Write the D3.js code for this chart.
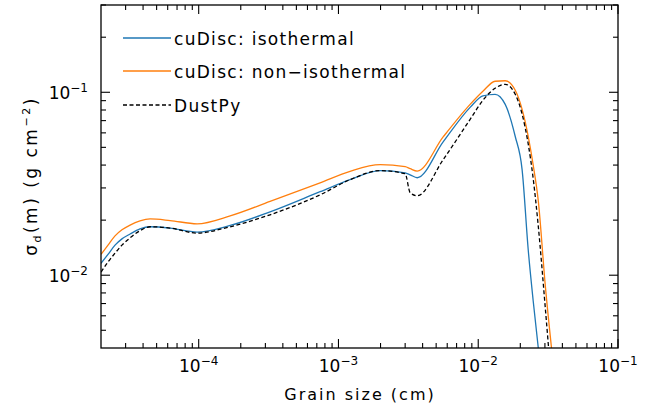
<!DOCTYPE html>
<html>
<head>
<meta charset="utf-8">
<script src="https://cdn.jsdelivr.net/npm/d3@7"></script>
<style>
  body { margin: 0; background: #fff; }
  text { font-family: "DejaVu Sans", sans-serif; fill: #000; }
</style>
</head>
<body>
<svg id="chart" width="665" height="410"></svg>
<script>
// Grain sizes (cm) and surface densities (g cm^-2)
var grainSize = [2.0e-5, 2.245e-5, 2.52e-5, 2.825e-5, 3.23e-5, 3.80e-5, 4.49e-5, 6.24e-5, 9.73e-5,
                 1.68e-4, 3.24e-4, 7.39e-4, 1.21e-3, 1.99e-3, 3.00e-3, 3.26e-3, 3.66e-3, 5.61e-3,
                 8.75e-3, 1.08e-2, 1.32e-2, 1.56e-2, 1.84e-2, 2.06e-2, 2.28e-2, 2.47e-2, 2.69e-2,
                 3.01e-2, 3.38e-2];
var isothermal = [0.0116, 0.0130, 0.0146, 0.0158, 0.0168, 0.0179, 0.0184, 0.0181, 0.0172,
                  0.0187, 0.0222, 0.0286, 0.0333, 0.0373, 0.0363, 0.0354, 0.0341, 0.0535,
                  0.0827, 0.0957, 0.0975, 0.0859, 0.0573, 0.0378, 0.0137, 0.0073, 0.0040,
                  0.0021, 0.0011];
var nonIsothermal = [0.0130, 0.0146, 0.0164, 0.0177, 0.0188, 0.0198, 0.0203, 0.0199, 0.0191,
                     0.0211, 0.0253, 0.0320, 0.0370, 0.0402, 0.0392, 0.0382, 0.0371, 0.0570,
                     0.0859, 0.1013, 0.1149, 0.1156, 0.1025, 0.0807, 0.0573, 0.0402, 0.0255,
                     0.0090, 0.0037];
var dustPy = [0.0104, 0.0118, 0.0132, 0.0146, 0.0160, 0.0175, 0.0184, 0.0181, 0.0170,
              0.0184, 0.0214, 0.0275, 0.0333, 0.0373, 0.0359, 0.0282, 0.0272, 0.0428,
              0.0711, 0.0904, 0.1052, 0.1106, 0.0975, 0.0760, 0.0520, 0.0340, 0.0185,
              0.0068, 0.0023];

var seriesNames = ["cuDisc: isothermal", "cuDisc: non\u2212isothermal", "DustPy"];
var seriesColors = ["#1f77b4", "#ff7f0e", "#000"];
var seriesValues = [isothermal, nonIsothermal, dustPy];

var xTickExp = [-4, -3, -2, -1];
var yTickExp = [-2, -1];

// Plot box (careful: "top" is taken by window.top)
var boxL = 101, boxR = 618, boxT = 5, boxB = 348;

var svg = d3.select("#chart");

var x = d3.scaleLog().domain([2e-5, 0.1]).range([boxL, boxR]);
var y = d3.scaleLog().domain([0.004, 0.3]).range([boxB, boxT]);

// clip the curves to the plot box
svg.append("clipPath").attr("id", "box")
    .append("rect").attr("x", boxL).attr("y", boxT)
    .attr("width", boxR - boxL).attr("height", boxB - boxT);

var line = d3.line()
    .x(function (d) { return x(d[0]); })
    .y(function (d) { return y(d[1]); })
    .curve(d3.curveMonotoneX);

var curves = svg.append("g").attr("clip-path", "url(#box)");
seriesValues.forEach(function (vals, i) {
    curves.append("path")
        .datum(grainSize.map(function (a, j) { return [a, vals[j]]; }))
        .attr("d", line)
        .attr("fill", "none")
        .attr("stroke", seriesColors[i])
        .attr("stroke-width", 1.3)
        .attr("stroke-dasharray", i === 2 ? "4,2.5" : null);
});

// Minor/major tick list for a log domain
function logTicks(domain) {
    var out = [];
    var lo = Math.floor(Math.log10(domain[0])), hi = Math.ceil(Math.log10(domain[1]));
    for (var e = lo; e <= hi; e++) {
        for (var m = 1; m <= 9; m++) {
            var v = m * Math.pow(10, e);
            if (v > domain[0] * 1.0001 && v <= domain[1] * 1.0001) {
                out.push({ v: v, major: m === 1 });
            }
        }
    }
    return out;
}

var axes = svg.append("g").attr("stroke", "#000").attr("stroke-width", 1.1);
var majorLen = 9, minorLen = 5;

logTicks(x.domain()).forEach(function (t) {
    var px = x(t.v), len = t.major ? majorLen : minorLen;
    axes.append("line").attr("x1", px).attr("x2", px).attr("y1", boxB).attr("y2", boxB - len);
    axes.append("line").attr("x1", px).attr("x2", px).attr("y1", boxT).attr("y2", boxT + len);
});
logTicks(y.domain()).forEach(function (t) {
    var py = y(t.v), len = t.major ? majorLen : minorLen;
    axes.append("line").attr("y1", py).attr("y2", py).attr("x1", boxL).attr("x2", boxL + len);
    axes.append("line").attr("y1", py).attr("y2", py).attr("x1", boxR).attr("x2", boxR - len);
});

svg.append("rect")
    .attr("x", boxL).attr("y", boxT)
    .attr("width", boxR - boxL).attr("height", boxB - boxT)
    .attr("fill", "none").attr("stroke", "#000").attr("stroke-width", 1.3);

// Tick labels: 10^n
xTickExp.forEach(function (e) {
    var t = svg.append("text")
        .attr("x", x(Math.pow(10, e)))
        .attr("y", 372)
        .attr("text-anchor", "middle")
        .style("font-size", "17px");
    t.append("tspan").text("10");
    t.append("tspan").attr("dy", -7).style("font-size", "12px").text("\u2212" + (-e));
});
yTickExp.forEach(function (e) {
    var t = svg.append("text")
        .attr("x", 88)
        .attr("y", y(Math.pow(10, e)) + 7)
        .attr("text-anchor", "end")
        .style("font-size", "17px");
    t.append("tspan").text("10");
    t.append("tspan").attr("dy", -7).style("font-size", "12px").text("\u2212" + (-e));
});

// Axis titles
svg.append("text")
    .attr("x", 360).attr("y", 400)
    .attr("text-anchor", "middle")
    .style("font-size", "16px")
    .style("letter-spacing", "2px")
    .text("Grain size (cm)");

var yl = svg.append("text")
    .attr("transform", "translate(37,176) rotate(-90)")
    .attr("text-anchor", "middle")
    .style("font-size", "17px")
    .style("letter-spacing", "2.5px");
yl.append("tspan").text("\u03c3");
yl.append("tspan").attr("dy", 4).style("font-size", "11px").text("d");
yl.append("tspan").attr("dy", -4).text("(m) (g cm");
yl.append("tspan").attr("dy", -7).style("font-size", "11px").text("\u22122");
yl.append("tspan").attr("dy", 7).text(")");

// Legend
var legendY = [38, 71, 105];
seriesNames.forEach(function (name, i) {
    svg.append("line")
        .attr("x1", 123).attr("x2", 171)
        .attr("y1", legendY[i]).attr("y2", legendY[i])
        .attr("stroke", seriesColors[i])
        .attr("stroke-width", 1.3)
        .attr("stroke-dasharray", i === 2 ? "4,2.5" : null);
    svg.append("text")
        .attr("x", 174).attr("y", legendY[i] + 7)
        .style("font-size", "17px")
        .style("letter-spacing", "1.3px")
        .text(name);
});
</script>
</body>
</html>
